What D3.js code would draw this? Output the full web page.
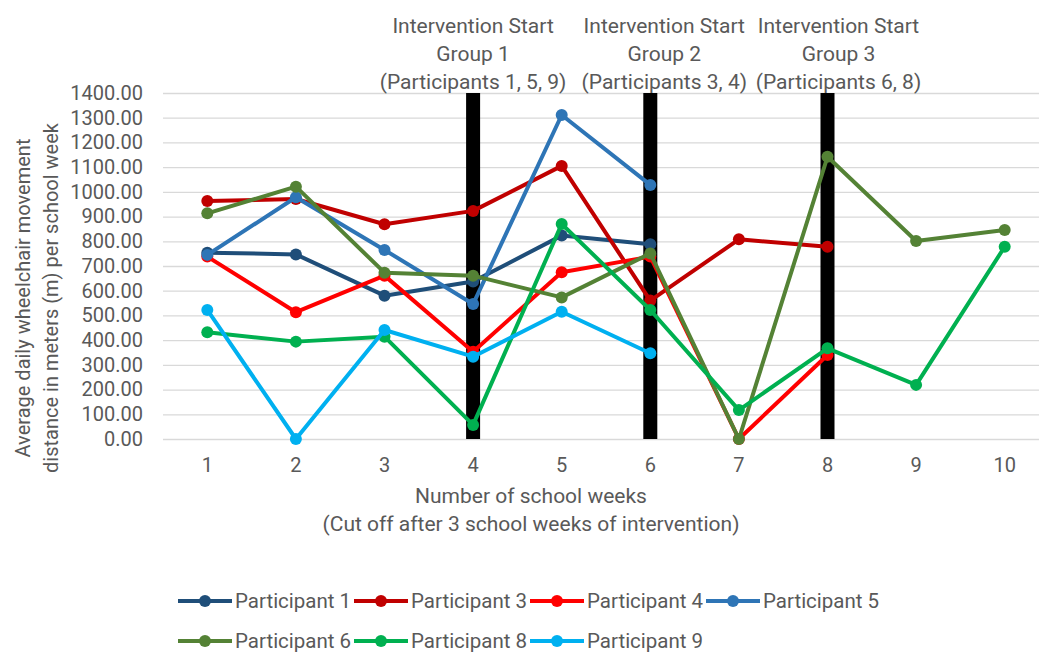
<!DOCTYPE html>
<html>
<head>
<meta charset="utf-8">
<script src="https://cdn.jsdelivr.net/npm/d3@7/dist/d3.min.js"></script>
<style>
  html, body { margin: 0; padding: 0; background: #fff; }
  text { font-family: Roboto, "Noto Sans", sans-serif; fill: #595959; }
</style>
</head>
<body>
<svg id="chart" width="1039" height="653"></svg>
<script>
// ---------------- data ----------------
const weeks = [1, 2, 3, 4, 5, 6, 7, 8, 9, 10];
const yTicks = [0, 100, 200, 300, 400, 500, 600, 700, 800, 900, 1000, 1100, 1200, 1300, 1400];

const participant1 = [754, 747, 580, 637, 823, 788, null, null, null, null];
const participant3 = [963, 971, 869, 923, 1105, 560, 808, 778, null, null];
const participant4 = [738, 513, 661, 353, 675, 738, 0, 340, null, null];
const participant5 = [745, 978, 765, 546, 1311, 1028, null, null, null, null];
const participant6 = [913, 1021, 673, 661, 573, 751, 0, 1142, 801, 846];
const participant8 = [432, 394, 414, 57, 870, 522, 117, 367, 219, 778];
const participant9 = [522, 0, 441, 333, 515, 347, null, null, null, null];

const seriesNames = ["Participant 1", "Participant 3", "Participant 4", "Participant 5",
                     "Participant 6", "Participant 8", "Participant 9"];
const seriesValues = [participant1, participant3, participant4, participant5,
                      participant6, participant8, participant9];
const seriesColors = ["#1F4E79", "#C00000", "#FF0000", "#2E75B6", "#548235", "#00B050", "#00B0F0"];

const interventionWeeks = [4, 6, 8];
const interventionValue = 1400;
const interventionLabels = [
  ["Intervention Start", "Group 1", "(Participants 1, 5, 9)"],
  ["Intervention Start", "Group 2", "(Participants 3, 4)"],
  ["Intervention Start", "Group 3", "(Participants 6, 8)"]
];

const yTitle = ["Average daily wheelchair movement", "distance in meters (m) per school week"];
const xTitle = ["Number of school weeks", "(Cut off after 3 school weeks of intervention)"];

// ---------------- layout ----------------
(function () {
const svg = d3.select("#chart");
const W = 1039, H = 653;
const pLeft = 163, pRight = 1049, pTop = 93, pBottom = 439;
const FS = 20, FT = 21, FL = 20.5;

svg.append("rect").attr("width", W).attr("height", H).attr("fill", "#fff");

const x = d3.scaleBand().domain(weeks).range([pLeft, pRight]).padding(0);
const cx = w => x(w) + x.bandwidth() / 2;
const y = d3.scaleLinear().domain([0, 1400]).range([pBottom, pTop]);

// y axis with gridlines
const yAxis = d3.axisLeft(y)
  .tickValues(yTicks)
  .tickFormat(d3.format(".2f"))
  .tickSize(-(pRight - pLeft))
  .tickPadding(20);
const gy = svg.append("g").attr("transform", `translate(${pLeft},0)`).call(yAxis);
gy.select(".domain").remove();
gy.selectAll(".tick line").attr("stroke", "#d9d9d9").attr("stroke-width", 1.3);
gy.selectAll(".tick text").style("font-size", FS + "px").attr("fill", "#595959")
  .style("font-family", "Roboto");

// x axis labels
const xAxis = d3.axisBottom(x).tickSize(0).tickPadding(19);
const gx = svg.append("g").attr("transform", `translate(0,${pBottom})`).call(xAxis);
gx.select(".domain").remove();
gx.selectAll(".tick text").style("font-size", FS + "px").attr("fill", "#595959")
  .style("font-family", "Roboto");

// intervention bars
const barW = 14;
svg.append("g").selectAll("rect")
  .data(interventionWeeks)
  .join("rect")
  .attr("x", d => cx(d) - barW / 2)
  .attr("width", barW)
  .attr("y", y(interventionValue))
  .attr("height", y(0) - y(interventionValue))
  .attr("fill", "#000");

// intervention annotations
const annOffsets = [0, 14, 11];
const annG = svg.append("g");
interventionLabels.forEach((lines, i) => {
  const ax = cx(interventionWeeks[i]) + annOffsets[i];
  const t = annG.append("text")
    .attr("x", ax)
    .attr("text-anchor", "middle")
    .style("font-size", FT + "px");
  lines.forEach((ln, j) => {
    t.append("tspan").attr("x", ax).attr("y", 33 + j * 28).text(ln);
  });
});

// lines
const line = d3.line()
  .defined(d => d.v !== null)
  .x(d => cx(d.w))
  .y(d => y(d.v));

const seriesG = svg.append("g");
seriesValues.forEach((vals, i) => {
  const pts = weeks.map((w, k) => ({ w: w, v: vals[k] }));
  const g = seriesG.append("g");
  g.append("path")
    .datum(pts)
    .attr("d", line)
    .attr("fill", "none")
    .attr("stroke", seriesColors[i])
    .attr("stroke-width", 4)
    .attr("stroke-linejoin", "round")
    .attr("stroke-linecap", "round");
  g.selectAll("circle")
    .data(pts.filter(d => d.v !== null))
    .join("circle")
    .attr("cx", d => cx(d.w))
    .attr("cy", d => y(d.v))
    .attr("r", 6)
    .attr("fill", seriesColors[i]);
});

// y title
const yt = svg.append("g");
yTitle.forEach((ln, j) => {
  yt.append("text")
    .attr("transform", `translate(${30 + j * 28},298) rotate(-90)`)
    .attr("text-anchor", "middle")
    .style("font-size", FS + "px")
    .text(ln);
});

// x title
xTitle.forEach((ln, j) => {
  svg.append("text")
    .attr("x", 531)
    .attr("y", 503 + j * 28)
    .attr("text-anchor", "middle")
    .style("font-size", FT + "px")
    .text(ln);
});

// legend
const legG = svg.append("g");
const perRow = 4, pitch = 176, legX = 178, legY = [601, 641];
seriesNames.forEach((name, i) => {
  const row = Math.floor(i / perRow), col = i % perRow;
  const g = legG.append("g").attr("transform", `translate(${legX + col * pitch},${legY[row]})`);
  g.append("line").attr("x1", 0).attr("x2", 54).attr("y1", 0).attr("y2", 0)
    .attr("stroke", seriesColors[i]).attr("stroke-width", 4);
  g.append("circle").attr("cx", 27).attr("cy", 0).attr("r", 6).attr("fill", seriesColors[i]);
  g.append("text").attr("x", 57).attr("y", 0).attr("dy", "0.35em")
    .style("font-size", FL + "px").text(name);
});
})();
</script>
</body>
</html>
